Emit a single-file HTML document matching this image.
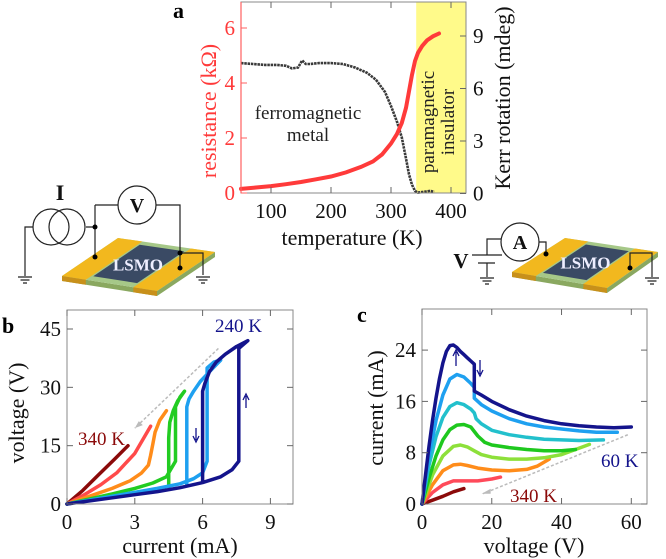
<!DOCTYPE html>
<html><head><meta charset="utf-8"><style>
body{margin:0;background:#fff}
svg{display:block}
svg text{font-family:"Liberation Serif","DejaVu Serif",serif}
</style></head><body>
<svg id="fig" width="666" height="559" viewBox="0 0 666 559" xmlns="http://www.w3.org/2000/svg" font-family="Liberation Serif, serif"></svg>
<script>
// ---------- Panel a data ----------
const aTemp = [50,75,100,125,150,175,200,225,250,270,285,300,310,318,325,330,335,340,345,352,360,370,380];
const aRes  = [0.15,0.2,0.25,0.32,0.4,0.5,0.6,0.75,0.95,1.15,1.4,1.8,2.15,2.55,3.1,3.7,4.3,4.8,5.1,5.35,5.55,5.7,5.8];
const kTemp = [50,70,90,110,125,135,145,152,158,165,180,200,220,240,260,275,290,300,310,318,325,330,335,340,345,355,365,372];
const kVal  = [7.45,7.4,7.35,7.35,7.3,7.15,7.2,7.6,7.4,7.4,7.45,7.45,7.4,7.2,6.9,6.5,5.8,5.0,4.1,3.2,2.0,1.1,0.5,0.15,0.05,0.1,0.15,0.1];
const aXTicks = [100,200,300,400];
const aRTicks = [0,2,4,6];
const aKTicks = [0,3,6,9];
// ---------- Panel b data (current mA, voltage V) ----------
const bTicksX = [0,3,6,9];
const bTicksY = [0,15,30,45];
const bNavyI = [0,1,2,3,4,5,6,6.8,7.3,7.6,7.6,7.8,8.0,7.5,7.0,6.6,6.3,6.1,6.0,6.0];
const bNavyV = [0,0.8,1.6,2.4,3.2,4.2,5.5,7,8.8,11,40,41,42,40.5,38.5,36.5,34,31,29,6];
const bBlueI = [0,1,2,3,4,5,5.6,6.0,6.2,6.2,6.5,6.8,6.3,5.9,5.6,5.4,5.3,5.3];
const bBlueV = [0,1,2,3,4,5.2,6.5,8,11,35,36.5,37,34,31.5,29,27,25,5];
const bGreenI = [0,1,2,3,3.8,4.4,4.8,4.8,5.0,5.2,4.9,4.7,4.55,4.5,4.5];
const bGreenV = [0,1.3,2.6,4,5.4,7,11,25,27.5,29,26.5,24,21,17,4.5];
const bOrangeI = [0,1,2,2.8,3.3,3.6,3.7,3.8,3.9,4.1,4.4];
const bOrangeV = [0,2,4,6,8,10,12.5,15.5,18.5,21.5,24];
const bRedI = [0,0.8,1.5,2.2,3.0,3.7];
const bRedV = [0,2.5,5,8,13,20];
const bDarkI = [0,0.7,1.4,2.1,2.7];
const bDarkV = [0,3.5,7.5,11.5,15];
// ---------- Panel c data (voltage V, current mA) ----------
const cTicksX = [0,20,40,60];
const cTicksY = [0,8,16,24];
const cNavyV = [0,1,2,3,4,5,6,7,8,9,10,11,12,13,14,15,15,17,20,25,30,35,40,45,50,55,60];
const cNavyI = [0,4.5,9,13,16.5,19.5,22,23.8,24.7,24.8,24.4,23.8,23.3,22.8,22.3,21.8,17.6,17,16,14.7,13.7,13,12.5,12.2,12,11.9,12];
const cBlueV = [0,2,4,6,8,10,12,14,15,15,17,20,25,30,35,40,45,50,56];
const cBlueI = [0,7.5,13,17,19.5,20.2,19.8,18.8,18.2,16.5,15.5,14.5,13.3,12.5,12,11.7,11.4,11.2,11.2];
const cCyanV = [0,2,4,6,8,10,12,14,15,15.5,17,20,25,30,35,40,45,52];
const cCyanI = [0,6,10.5,13.5,15.2,15.8,15.5,14.8,14.2,13.3,12.5,11.5,10.8,10.4,10.1,10,9.9,10];
const cGreenV = [0,2,4,6,8,10,12,14,16,18,20,25,30,35,40,44];
const cGreenI = [0,4,7.5,10,11.6,12.3,12.4,12,10.6,9.6,9.2,8.8,8.5,8.3,8.3,8.5];
const cLimeV = [0,3,6,9,11,13,15,17,20,25,30,35,40,44,48];
const cLimeI = [0,4.5,7.5,9,9.2,8.9,8.3,7.7,7.3,7,7,7.2,7.7,8.5,9.3];
const cOrangeV = [0,3,6,9,11,13,16,20,25,30,33,36.5];
const cOrangeI = [0,3,5.2,6.1,6.2,6,5.6,5.3,5.2,5.4,5.9,7];
const cRedV = [0,3,6,9,12,16,20,22.5];
const cRedI = [0,1.8,3,3.6,3.6,3.6,3.9,4.2];
const cDarkV = [0,3,6,9,12];
const cDarkI = [0,0.6,1.2,1.9,2.4];

const NS='http://www.w3.org/2000/svg';
const svg=document.getElementById('fig');
function mk(tag, attrs, parent){const e=document.createElementNS(NS,tag);for(const k in attrs)e.setAttribute(k,attrs[k]);(parent||svg).appendChild(e);return e;}
function txt(s, attrs, parent){const e=mk('text',attrs,parent);e.setAttribute('font-family','Liberation Serif, serif');e.textContent=s;return e;}
function lin(d0,d1,r0,r1){return v=>r0+(v-d0)*(r1-r0)/(d1-d0);}
function pts(xs,ys,fx,fy){return xs.map((v,i)=>fx(v).toFixed(1)+','+fy(ys[i]).toFixed(1)).join(' ');}

// ===== Panel a =====
const ax=lin(50,425,241,466), ayR=lin(0,6,193,28), ayK=lin(0,9,193.5,36);
let g=mk('g',{});
 
let e=mk('rect',{x:ax(342),y:2,width:466-ax(342),height:191,fill:'#fffa8a'},g);
 
e=mk('polyline',{points:pts(kTemp,kVal,ax,ayK),fill:'none',stroke:'#3a3a3a','stroke-width':2.6,'stroke-dasharray':'2.5 0.8'},g);
 
e=mk('polyline',{points:pts(aTemp,aRes,ax,ayR),fill:'none',stroke:'#ff3a3a','stroke-width':4,'stroke-linecap':'round'},g);
 
e=mk('rect',{x:241,y:2,width:225,height:191,fill:'none',stroke:'#888','stroke-width':1},g);
 
mk('line',{x1:241,y1:2,x2:241,y2:193,stroke:'#ff6060','stroke-width':1.2},g);
aXTicks.forEach(t=>{
  mk('line',{x1:ax(t),y1:193,x2:ax(t),y2:187,stroke:'#666'},g);
  mk('line',{x1:ax(t),y1:2,x2:ax(t),y2:8,stroke:'#666'},g);
  e=txt(String(t),{x:ax(t),y:218,'font-size':21,'text-anchor':'middle',fill:'#111'},g);
   
});
aRTicks.forEach(t=>{
  mk('line',{x1:241,y1:ayR(t),x2:247,y2:ayR(t),stroke:'#ff6060'},g);
  e=txt(String(t),{x:235,y:ayR(t)+7,'font-size':21,'text-anchor':'end',fill:'#ff3a3a'},g);
   
});
aKTicks.forEach(t=>{
  mk('line',{x1:466,y1:ayK(t),x2:460,y2:ayK(t),stroke:'#666'},g);
  e=txt(String(t),{x:473,y:ayK(t)+7,'font-size':21,fill:'#111'},g);
   
});
e=txt('temperature (K)',{x:352,y:245,'font-size':22,'text-anchor':'middle',fill:'#111'},g);
 
e=txt('resistance (kΩ)',{x:0,y:0,'font-size':22,'text-anchor':'middle',fill:'#ff3a3a',transform:'translate(216,111) rotate(-90)'},g);
 
e=txt('Kerr rotation (mdeg)',{x:0,y:0,'font-size':22,'text-anchor':'middle',fill:'#111',transform:'translate(510,98) rotate(-90)'},g);
 
e=txt('ferromagnetic',{x:308,y:119,'font-size':19,'text-anchor':'middle',fill:'#222'},g);
 
e=txt('metal',{x:308,y:141,'font-size':19,'text-anchor':'middle',fill:'#222'},g);
 
e=txt('paramagnetic',{x:0,y:0,'font-size':19,'text-anchor':'middle',fill:'#222',transform:'translate(434,122) rotate(-90)'},g);
 
e=txt('insulator',{x:0,y:0,'font-size':19,'text-anchor':'middle',fill:'#222',transform:'translate(454,122) rotate(-90)'},g);
 
e=txt('a',{x:173,y:18,'font-size':22,'font-weight':'bold',fill:'#000'});
 

// ===== Panel b =====
const bx=lin(0,10,67,293), by=lin(0,45,504,329);
g=mk('g',{});
 
e=mk('line',{x1:bx(6.7),y1:by(40),x2:bx(3),y2:by(19.5),stroke:'#bbb','stroke-width':1.5,'stroke-dasharray':'3 2'},g);
 
mk('path',{d:`M${bx(3)},${by(19.5)} l8,-3 l-4,-4 z`,fill:'#bbb'},g);
[[bDarkI,bDarkV,'#8b0a0a','340k'],[bRedI,bRedV,'#ff4a4a','320k'],[bOrangeI,bOrangeV,'#ff8c1a','300k'],[bGreenI,bGreenV,'#22cc22','280k'],[bBlueI,bBlueV,'#1ea0f0','260k'],[bNavyI,bNavyV,'#14148c','240k']].forEach(s=>{
  e=mk('polyline',{points:pts(s[0],s[1],bx,by),fill:'none',stroke:s[2],'stroke-width':3.5,'stroke-linejoin':'round','stroke-linecap':'round'},g);
   
});
e=mk('rect',{x:67,y:310,width:226,height:194,fill:'none',stroke:'#888'},g);
 
bTicksX.forEach(t=>{
  mk('line',{x1:bx(t),y1:504,x2:bx(t),y2:498,stroke:'#666'},g);
  mk('line',{x1:bx(t),y1:310,x2:bx(t),y2:316,stroke:'#666'},g);
  e=txt(String(t),{x:bx(t),y:529,'font-size':21,'text-anchor':'middle',fill:'#111'},g);
   
});
bTicksY.forEach(t=>{
  mk('line',{x1:67,y1:by(t),x2:73,y2:by(t),stroke:'#666'},g);
  mk('line',{x1:293,y1:by(t),x2:287,y2:by(t),stroke:'#666'},g);
  e=txt(String(t),{x:61,y:by(t)+7,'font-size':21,'text-anchor':'end',fill:'#111'},g);
   
});
e=txt('current (mA)',{x:180,y:553,'font-size':22,'text-anchor':'middle',fill:'#111'},g);
 
e=txt('voltage (V)',{x:0,y:0,'font-size':22,'text-anchor':'middle',fill:'#111',transform:'translate(24,413) rotate(-90)'},g);
 
e=txt('240 K',{x:215,y:332,'font-size':19,fill:'#14148c'},g);
 
e=txt('340 K',{x:78,y:445,'font-size':19,fill:'#8b0a0a'},g);
 
mk('path',{d:'M246,408 V396 M243,400 L246,394 L249,400',stroke:'#14148c','stroke-width':1.3,fill:'none'},g);
mk('path',{d:'M196,428 V440 M193,436 L196,442 L199,436',stroke:'#14148c','stroke-width':1.3,fill:'none'},g);
e=txt('b',{x:2,y:333,'font-size':22,'font-weight':'bold',fill:'#000'});
 

// ===== Panel c =====
const cx=lin(0,64.5,422,647), cy=lin(0,8,504,452.7);
g=mk('g',{});
 
e=mk('line',{x1:cx(59),y1:cy(10.8),x2:cx(17.5),y2:cy(1.6),stroke:'#bbb','stroke-width':1.5,'stroke-dasharray':'3 2'},g);
 
mk('path',{d:`M${cx(17.1)},${cy(1.6)} l9,-5 l0,5 z`,fill:'#bbb'},g);
[[cDarkV,cDarkI,'#8b0a0a','340k'],[cRedV,cRedI,'#ff4a5a','300k'],[cOrangeV,cOrangeI,'#ff8c1a','260k'],[cLimeV,cLimeI,'#8de03a','220k'],[cGreenV,cGreenI,'#1ec81e','180k'],[cCyanV,cCyanI,'#22c0cc','140k'],[cBlueV,cBlueI,'#1ea0f0','100k'],[cNavyV,cNavyI,'#14148c','60k']].forEach(s=>{
  e=mk('polyline',{points:pts(s[0],s[1],cx,cy),fill:'none',stroke:s[2],'stroke-width':3.5,'stroke-linejoin':'round','stroke-linecap':'round'},g);
   
});
e=mk('rect',{x:422,y:309,width:225,height:195,fill:'none',stroke:'#888'},g);
 
cTicksX.forEach(t=>{
  mk('line',{x1:cx(t),y1:504,x2:cx(t),y2:498,stroke:'#666'},g);
  mk('line',{x1:cx(t),y1:309,x2:cx(t),y2:315,stroke:'#666'},g);
  e=txt(String(t),{x:cx(t),y:529,'font-size':21,'text-anchor':'middle',fill:'#111'},g);
   
});
cTicksY.forEach(t=>{
  mk('line',{x1:422,y1:cy(t),x2:428,y2:cy(t),stroke:'#666'},g);
  mk('line',{x1:647,y1:cy(t),x2:641,y2:cy(t),stroke:'#666'},g);
  e=txt(String(t),{x:416,y:cy(t)+7,'font-size':21,'text-anchor':'end',fill:'#111'},g);
   
});
e=txt('voltage (V)',{x:534,y:553,'font-size':22,'text-anchor':'middle',fill:'#111'},g);
 
e=txt('current (mA)',{x:0,y:0,'font-size':22,'text-anchor':'middle',fill:'#111',transform:'translate(383,408) rotate(-90)'},g);
 
e=txt('60 K',{x:601,y:467,'font-size':19,fill:'#14148c'},g);
 
e=txt('340 K',{x:510,y:502,'font-size':19,fill:'#8b0a0a'},g);
 
mk('path',{d:'M456,366 V352 M453,356 L456,350 L459,356',stroke:'#14148c','stroke-width':1.3,fill:'none'},g);
mk('path',{d:'M480,360 V374 M477,370 L480,376 L483,370',stroke:'#14148c','stroke-width':1.3,fill:'none'},g);
e=txt('c',{x:357,y:322,'font-size':22,'font-weight':'bold',fill:'#000'});
 

// ===== Schematics =====
function chip(name,A,B,C,D){
  const cg=mk('g',{});
   
  const P=(p,q,t)=>[p[0]+(q[0]-p[0])*t,p[1]+(q[1]-p[1])*t];
  const poly=a=>a.map(p=>p[0].toFixed(1)+','+p[1].toFixed(1)).join(' ');
  const th=5;
  mk('polygon',{points:poly([A,D,C,[C[0],C[1]+th],[D[0],D[1]+th],[A[0],A[1]+th]]),fill:'#8aa860'},cg);
  mk('polygon',{points:poly([A,B,C,D]),fill:'#a6c888'},cg);
  const s=0.27;
  const a1=P(A,D,s),b1=P(B,C,s),a2=P(A,D,1-s),b2=P(B,C,1-s);
  mk('polygon',{points:poly([P(a1,b1,0.1),P(a1,b1,0.92),P(a2,b2,0.92),P(a2,b2,0.1)]),fill:'#3a4a64'},cg);
  mk('polygon',{points:poly([A,B,P(B,C,0.25),P(A,D,0.25)]),fill:'#f2b81e'},cg);
  mk('polygon',{points:poly([P(A,D,0.75),P(B,C,0.75),C,D]),fill:'#f2b81e'},cg);
  mk('polygon',{points:poly([A,P(A,D,0.25),[P(A,D,0.25)[0],P(A,D,0.25)[1]+th],[A[0],A[1]+th]]),fill:'#c8901a'},cg);
  mk('polygon',{points:poly([P(A,D,0.75),D,[D[0],D[1]+th],[P(A,D,0.75)[0],P(A,D,0.75)[1]+th]]),fill:'#c8901a'},cg);
  const m=P(P(A,B,0.5),P(D,C,0.5),0.5);
  const t=txt('LSMO',{x:m[0],y:m[1]+6,'font-size':17,'font-weight':'bold','text-anchor':'middle',fill:'#eef'},cg);
   
}
function ground(x,y,par){
  mk('path',{d:`M${x-7},${y} H${x+7} M${x-4.5},${y+3} H${x+4.5} M${x-2},${y+6} H${x+2}`,stroke:'#222','stroke-width':1.2,fill:'none'},par);
}
chip('left-device',[62,276],[118,238],[215,252],[157,291]);
chip('right-device',[512,272],[565,238],[658,252],[607,288]);
let w=mk('g',{stroke:'#222','stroke-width':1.2,fill:'none'});
 
mk('path',{d:'M33,227 H25 V276 M86,227 H95 V257 M95,205 V227 M95,205 H118 M156,205 H180 V268 M180,253 H203 V275'},w);
ground(25,277,w); ground(203,277,w);
e=mk('circle',{cx:51,cy:227,r:18},w);
 
mk('circle',{cx:67,cy:227,r:18},w);
e=mk('circle',{cx:137,cy:205,r:19},w);
 
[[95,227],[95,257],[180,253],[180,268]].forEach(p=>mk('circle',{cx:p[0],cy:p[1],r:2.5,fill:'#000',stroke:'none'},w));
e=txt('V',{x:137,y:212,'font-size':20,'font-weight':'bold','text-anchor':'middle',fill:'#111',stroke:'none'},w);
e=txt('I',{x:60,y:200,'font-size':22,'font-weight':'bold','text-anchor':'middle',fill:'#111',stroke:'none'},w);
 
w=mk('g',{stroke:'#222','stroke-width':1.2,fill:'none'});
 
mk('path',{d:'M472,255 H502 M478,263 H495 M487,263 V277 M487,255 V239 H501 M539,242 H546 V254 M630,268 V253 H652 V277'},w);
ground(487,278,w); ground(652,278,w);
e=mk('circle',{cx:520,cy:242,r:19},w);
 
[[546,254],[630,268]].forEach(p=>mk('circle',{cx:p[0],cy:p[1],r:2.5,fill:'#000',stroke:'none'},w));
txt('A',{x:520,y:249,'font-size':20,'font-weight':'bold','text-anchor':'middle',fill:'#111',stroke:'none'},w);
e=txt('V',{x:461,y:268,'font-size':21,'font-weight':'bold','text-anchor':'middle',fill:'#111',stroke:'none'},w);
 
</script>
</body></html>
